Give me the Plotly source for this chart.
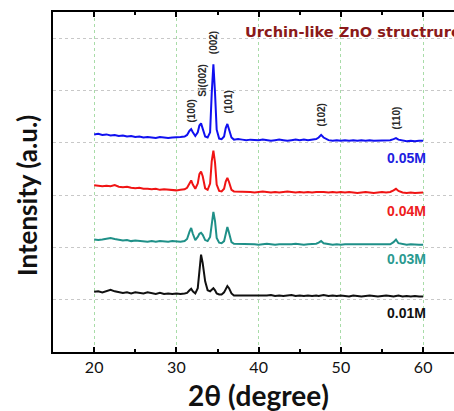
import plotly.graph_objects as go

# ---------------- data ----------------
two_theta = [20, 20.5, 21, 21.5, 22, 22.5, 23, 23.5, 24, 24.5, 25, 25.5, 26, 26.5, 27, 27.5,
             28, 28.5, 29, 29.5, 30, 30.5,
             31, 31.3, 31.6, 31.8, 32.0, 32.3, 32.6, 32.8, 33.0, 33.2, 33.5, 33.8, 34.1, 34.3,
             34.5, 34.7, 34.9, 35.2, 35.5, 35.8, 36.0, 36.2, 36.4, 36.7, 37.0, 37.5,
             38, 38.5, 39, 39.5, 40, 40.5, 41, 41.5, 42, 42.5, 43, 43.5, 44, 44.5, 45, 45.5,
             46, 46.5, 47, 47.3, 47.6, 47.9, 48.5,
             49, 49.5, 50, 50.5, 51, 51.5, 52, 52.5, 53, 53.5, 54, 54.5, 55, 55.5, 56, 56.4,
             56.7, 57, 57.5, 58, 58.5, 59, 59.5, 60]

int_005M = [4.16, 4.17, 4.15, 4.16, 4.14, 4.15, 4.13, 4.14, 4.12, 4.13, 4.11, 4.12, 4.10, 4.11, 4.10, 4.09,
            4.11, 4.10, 4.09, 4.10, 4.10, 4.11,
            4.12, 4.15, 4.23, 4.26, 4.20, 4.13, 4.20, 4.33, 4.37, 4.28, 4.12, 4.10, 4.20, 4.95,
            5.50, 4.95, 4.25, 4.08, 4.07, 4.12, 4.28, 4.36, 4.27, 4.10, 4.06, 4.07,
            4.06, 4.05, 4.06, 4.05, 4.05, 4.06, 4.05, 4.04, 4.05, 4.06, 4.05, 4.04, 4.05, 4.06, 4.05, 4.06,
            4.05, 4.06, 4.07, 4.10, 4.15, 4.10, 4.05,
            4.04, 4.05, 4.04, 4.05, 4.04, 4.05, 4.04, 4.05, 4.04, 4.05, 4.04, 4.04, 4.05, 4.04, 4.05, 4.07,
            4.09, 4.06, 4.04, 4.03, 4.04, 4.03, 4.04, 4.04]

int_004M = [3.19, 3.18, 3.17, 3.18, 3.17, 3.19, 3.16, 3.15, 3.16, 3.14, 3.13, 3.14, 3.12, 3.12, 3.11, 3.12,
            3.10, 3.11, 3.10, 3.09, 3.09, 3.10,
            3.11, 3.14, 3.24, 3.28, 3.20, 3.12, 3.22, 3.40, 3.45, 3.36, 3.13, 3.10, 3.22, 3.65,
            3.85, 3.62, 3.20, 3.08, 3.07, 3.12, 3.26, 3.33, 3.25, 3.10, 3.07, 3.07,
            3.06, 3.07, 3.06, 3.05, 3.06, 3.07, 3.06, 3.05, 3.06, 3.05, 3.06, 3.07, 3.06, 3.05, 3.06, 3.05,
            3.06, 3.05, 3.06, 3.06, 3.07, 3.06, 3.05,
            3.06, 3.05, 3.06, 3.05, 3.06, 3.05, 3.04, 3.05, 3.06, 3.05, 3.04, 3.05, 3.06, 3.05, 3.06, 3.09,
            3.12, 3.08, 3.05, 3.04, 3.05, 3.04, 3.05, 3.05]

int_003M = [2.15, 2.14, 2.15, 2.16, 2.18, 2.16, 2.14, 2.13, 2.14, 2.12, 2.13, 2.12, 2.12, 2.11, 2.12, 2.11,
            2.12, 2.11, 2.11, 2.12, 2.11, 2.11,
            2.12, 2.16, 2.30, 2.37, 2.26, 2.14, 2.20, 2.26, 2.28, 2.24, 2.14, 2.12, 2.20, 2.50,
            2.68, 2.50, 2.18, 2.09, 2.08, 2.12, 2.28, 2.39, 2.28, 2.10, 2.07, 2.07,
            2.06, 2.07, 2.06, 2.06, 2.05, 2.06, 2.07, 2.06, 2.05, 2.06, 2.06, 2.05, 2.06, 2.07, 2.06, 2.05,
            2.06, 2.06, 2.07, 2.09, 2.12, 2.08, 2.06,
            2.05, 2.06, 2.05, 2.06, 2.06, 2.05, 2.06, 2.05, 2.06, 2.05, 2.06, 2.05, 2.06, 2.05, 2.06, 2.10,
            2.15, 2.08, 2.06, 2.05, 2.06, 2.05, 2.05, 2.05]

int_001M = [1.15, 1.16, 1.14, 1.17, 1.19, 1.16, 1.14, 1.13, 1.14, 1.12, 1.14, 1.13, 1.12, 1.14, 1.12, 1.11,
            1.13, 1.11, 1.12, 1.11, 1.12, 1.11,
            1.12, 1.13, 1.18, 1.21, 1.16, 1.12, 1.22, 1.62, 1.86, 1.70, 1.35, 1.18, 1.16, 1.19,
            1.22, 1.18, 1.12, 1.10, 1.10, 1.14, 1.21, 1.26, 1.22, 1.12, 1.08, 1.08,
            1.08, 1.07, 1.08, 1.07, 1.08, 1.07, 1.08, 1.09, 1.07, 1.08, 1.07, 1.08, 1.09, 1.07, 1.08, 1.07,
            1.08, 1.07, 1.08, 1.07, 1.08, 1.09, 1.07,
            1.08, 1.07, 1.08, 1.07, 1.06, 1.08, 1.07, 1.06, 1.07, 1.08, 1.07, 1.06, 1.07, 1.08, 1.07, 1.06,
            1.07, 1.08, 1.06, 1.07, 1.06, 1.07, 1.06, 1.06]

series_names = ["0.05M", "0.04M", "0.03M", "0.01M"]
series_values = [int_005M, int_004M, int_003M, int_001M]

peak_labels = ["(100)", "Si(002)", "(002)", "(101)", "(102)", "(110)"]
peak_angles = [31.8, 33.1, 34.55, 36.35, 47.7, 56.8]

x_ticks = [20, 30, 40, 50, 60]
x_minor = [25, 35, 45, 55]
y_grid = [1, 2, 3, 4, 5, 6]

title_text = "Urchin-like ZnO structrure"
x_title = "2θ (degree)"
y_title = "Intensity (a.u.)"

# ---------------- styling ----------------
line_colors = ["#1010f0", "#f01414", "#1f9088", "#111111"]
label_colors = ["#2020e0", "#ee2020", "#2a9a90", "#111111"]
label_y = [3.70, 2.70, 1.77, 0.74]
peak_label_y = [4.60, 5.20, 5.92, 4.78, 4.54, 4.48]

W, H = 454, 411
ML, MR, MT, MB = 53, 0, 12, 59
x_px_per_unit = 8.225
x_range = [15, 15 + (W - ML - MR) / x_px_per_unit]

fig = go.Figure()
for name, vals, col in zip(series_names, series_values, line_colors):
    fig.add_trace(go.Scatter(x=two_theta, y=vals, mode="lines", name=name,
                             line=dict(color=col, width=2), showlegend=False))

ann = []
for name, yv, col in zip(series_names, label_y, label_colors):
    ann.append(dict(x=58.0, y=yv, xref="x", yref="y", text="<b>%s</b>" % name,
                    showarrow=False, xanchor="center", yanchor="middle",
                    font=dict(family="Liberation Sans, Arial", size=14, color=col)))
for lab, xa, yv in zip(peak_labels, peak_angles, peak_label_y):
    ann.append(dict(x=xa, y=yv, xref="x", yref="y", text="<b>%s</b>" % lab, textangle=-90,
                    showarrow=False, xanchor="center", yanchor="middle",
                    font=dict(family="Liberation Sans, Arial", size=10, color="#2a2a2a")))
ann.append(dict(x=(243 - ML) / (W - ML - MR), y=(H - MB - 31) / (H - MT - MB), xref="paper", yref="paper",
                text="<b>%s</b>" % title_text, showarrow=False, xanchor="left", yanchor="middle",
                font=dict(family="DejaVu Sans", size=14.6, color="#8b1a1a")))
ann.append(dict(x=40, y=(H - MB - 395) / (H - MT - MB), xref="x", yref="paper",
                text="<b>%s</b>" % x_title, showarrow=False, xanchor="center", yanchor="middle",
                font=dict(family="Lato, Open Sans", size=28, color="#111111")))
ann.append(dict(x=(27 - ML) / (W - ML - MR), y=(H - MB - 196) / (H - MT - MB), xref="paper", yref="paper",
                text="<b>%s</b>" % y_title, showarrow=False, textangle=-90,
                xanchor="center", yanchor="middle",
                font=dict(family="Lato, Open Sans", size=26, color="#111111")))

fig.update_layout(
    width=W, height=H,
    margin=dict(l=ML, r=MR, t=MT, b=MB, pad=0),
    paper_bgcolor="white", plot_bgcolor="white",
    annotations=ann,
    xaxis=dict(range=x_range, tickvals=x_ticks, ticktext=[str(v) for v in x_ticks],
               ticks="inside", ticklen=5, tickwidth=1.5, tickcolor="black",
               showline=True, linewidth=2, linecolor="black", mirror="ticks",
               showgrid=True, gridcolor="#a8dca8", griddash="dot", gridwidth=1,
               zeroline=False,
               tickfont=dict(family="Lato, Open Sans", size=16, color="#111111"),
               minor=dict(tickvals=x_minor, ticks="inside", ticklen=3, tickwidth=1.5,
                          tickcolor="black", showgrid=False)),
    yaxis=dict(range=[0, 6.5], tickvals=y_grid, showticklabels=False, ticks="",
               showline=True, linewidth=2, linecolor="black", mirror=False,
               showgrid=True, gridcolor="#c8c8c8", griddash="dot", gridwidth=1,
               zeroline=False),
)

fig.write_html("out.html", config={"displayModeBar": False},
               post_script="document.body.style.margin='0px';")
